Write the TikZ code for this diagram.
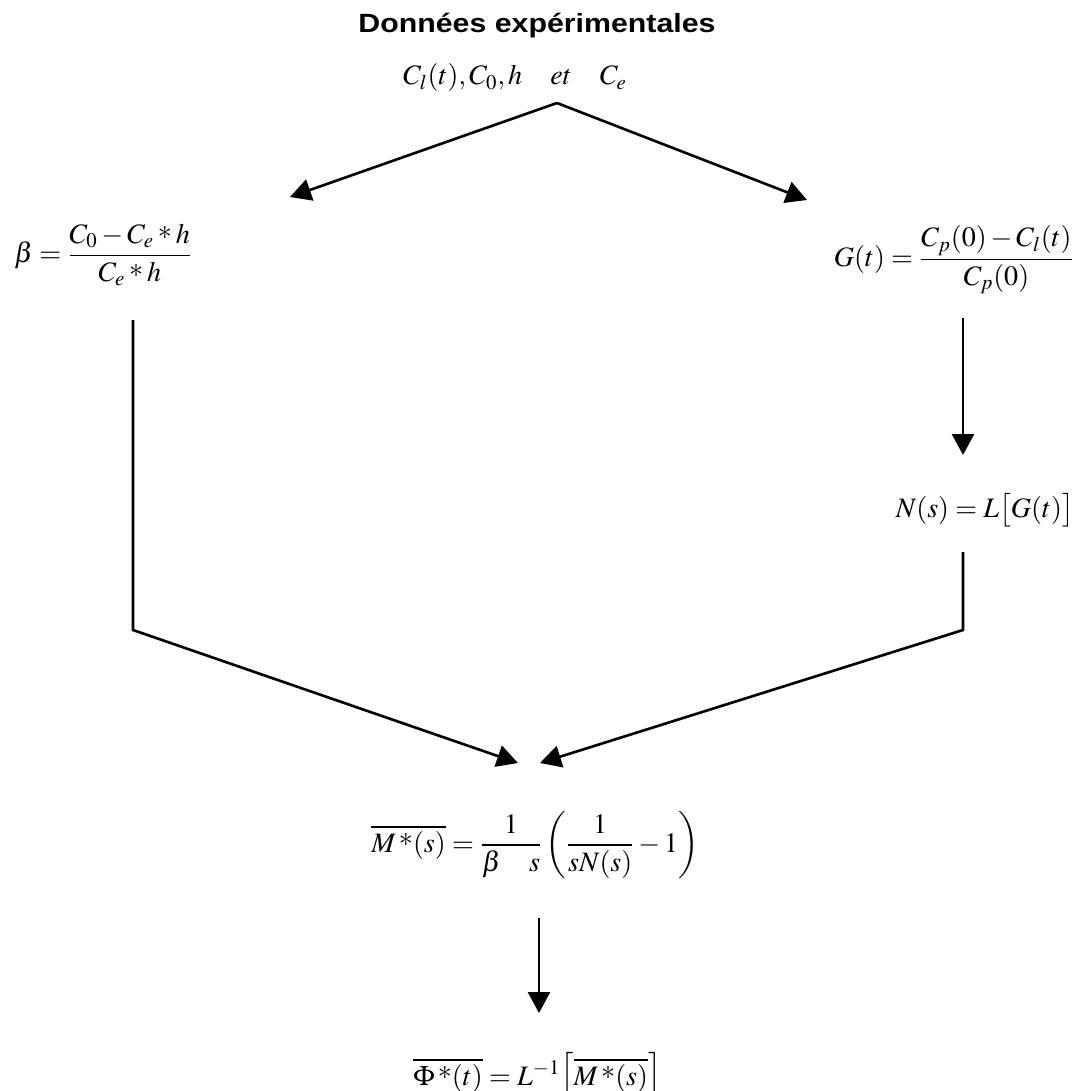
\documentclass[tikz,border=0pt]{standalone}
\usepackage{amsmath}
\usepackage{mathptmx}
\usepackage{fontspec}
\newfontfamily\titlefont[FakeStretch=1.15]{Liberation Sans}
\newcommand{\rast}{\mathbin{\raisebox{0.35ex}{$\ast$}}}
\newcommand{\sast}{\,\raisebox{0.45ex}{$\ast$}}
\usetikzlibrary{arrows.meta}
\tikzset{
  arr/.style={-{Triangle[length=0.42cm,width=0.44cm]}},
  formula/.style={inner sep=0pt, font=\fontsize{16}{19}\selectfont},
}
\begin{document}
\begin{tikzpicture}[x=0.02cm, y=-0.02cm, line width=1.5pt]
  \useasboundingbox (0,0) rectangle (1083,1091);
  % data
  \node[inner sep=0pt, anchor=base, font=\titlefont\bfseries\fontsize{15}{18}\selectfont] (title) at (537,33) {Données expérimentales};
  \node[formula, anchor=base] (data) at (515,85) {$C_l(t), C_0, h \quad et \quad C_e$};
  % formulas
  \node[formula, anchor=west] (beta) at (13,255) {$\beta = \dfrac{C_0 - C_e \rast h}{C_e \rast h}$};
  \node[formula, anchor=east] (gt) at (1075,260) {$G(t) = \dfrac{C_p(0) - C_l(t)}{C_p(0)}$};
  \node[formula, anchor=base east] (ns) at (1075,517) {$N(s) = L\big[G(t)\big]$};
  \node[formula, anchor=west] (ms) at (370,845) {$\overline{M\sast(s)} = \dfrac{1}{\beta\quad s}\left(\dfrac{1}{sN(s)} - 1\right)$};
  \node[formula, anchor=base west] (phi) at (412,1085) {$\overline{\Phi\sast(t)} = L^{-1}\Big[\overline{M\sast(s)}\Big]$};
  % connectors
  \coordinate (peak) at (557,103);
  \coordinate (betatip) at (290,197);
  \coordinate (gttip) at (807,200);
  \coordinate (lefttop) at (133,320);
  \coordinate (leftcorner) at (133,630);
  \coordinate (gtbottom) at (963,318);
  \coordinate (nstip) at (963,455);
  \coordinate (righttop) at (963,552);
  \coordinate (rightcorner) at (963,630);
  \coordinate (mtipl) at (518,763);
  \coordinate (mtipr) at (540,763);
  \coordinate (mbottom) at (539,918);
  \coordinate (phitip) at (539,1013);
  \draw[arr] (peak) -- (betatip);
  \draw[arr] (peak) -- (gttip);
  \draw[arr] (gtbottom) -- (nstip);
  \draw[arr] (lefttop) -- (leftcorner) -- (mtipl);
  \draw[arr] (righttop) -- (rightcorner) -- (mtipr);
  \draw[arr] (mbottom) -- (phitip);
\end{tikzpicture}
\end{document}
